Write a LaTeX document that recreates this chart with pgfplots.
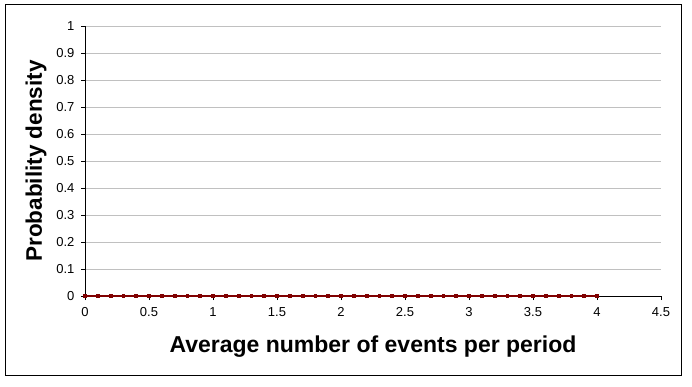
\documentclass[border=0pt]{standalone}
\usepackage{pgfplots}
\pgfplotsset{compat=1.18}
\usepackage{fontspec}
\setmainfont{Liberation Sans}
\definecolor{dred}{HTML}{800000}
\definecolor{gridgray}{HTML}{C0C0C0}
\begin{document}
\begin{tikzpicture}[x=1pt,y=1pt]
\useasboundingbox (0,0) rectangle (692,386);
\fill[white] (0,0) rectangle (692,386);
\draw[black, line width=1pt] (5,11) rectangle (681,381);
\begin{axis}[
  at={(85pt,90pt)}, anchor=south west,
  scale only axis, width=576pt, height=270pt,
  xmin=0, xmax=4.5, ymin=0, ymax=1,
  axis x line*=bottom, axis y line*=left,
  axis line style={black, line width=0.9pt, -},
  xtick={0,0.5,...,4.5}, ytick={0,0.1,...,1},
  xticklabels={0,0.5,1,1.5,2,2.5,3,3.5,4,4.5},
  yticklabels={0,0.1,0.2,0.3,0.4,0.5,0.6,0.7,0.8,0.9,1},
  tick align=outside, major tick length=4pt,
  tick style={black, line width=0.8pt},
  ymajorgrids, grid style={gridgray, line width=0.8pt},
  tick label style={font=\fontsize{13}{15}\selectfont},
  /pgf/number format/assume math mode=true,
  yticklabel style={xshift=-3pt},
  xticklabel style={yshift=-4pt},
  xlabel={\bfseries Average number of events per period},
  ylabel={\bfseries Probability density},
  xlabel style={font=\fontsize{23}{26}\selectfont, at={(axis description cs:0.5,0)}, anchor=center, yshift=-51pt},
  ylabel style={font=\fontsize{22.5}{26}\selectfont, at={(axis description cs:0,0.5)}, anchor=center, yshift=49pt},
  clip=false,
]
\addplot[dred, line width=1.2pt, mark=square*, mark size=1.3pt, mark options={fill=dred, draw=dred}]
coordinates {
(0,0)(0.1,0)(0.2,0)(0.3,0)(0.4,0)(0.5,0)(0.6,0)(0.7,0)(0.8,0)(0.9,0)
(1,0)(1.1,0)(1.2,0)(1.3,0)(1.4,0)(1.5,0)(1.6,0)(1.7,0)(1.8,0)(1.9,0)
(2,0)(2.1,0)(2.2,0)(2.3,0)(2.4,0)(2.5,0)(2.6,0)(2.7,0)(2.8,0)(2.9,0)
(3,0)(3.1,0)(3.2,0)(3.3,0)(3.4,0)(3.5,0)(3.6,0)(3.7,0)(3.8,0)(3.9,0)
(4,0)
};
\end{axis}
\end{tikzpicture}
\end{document}
